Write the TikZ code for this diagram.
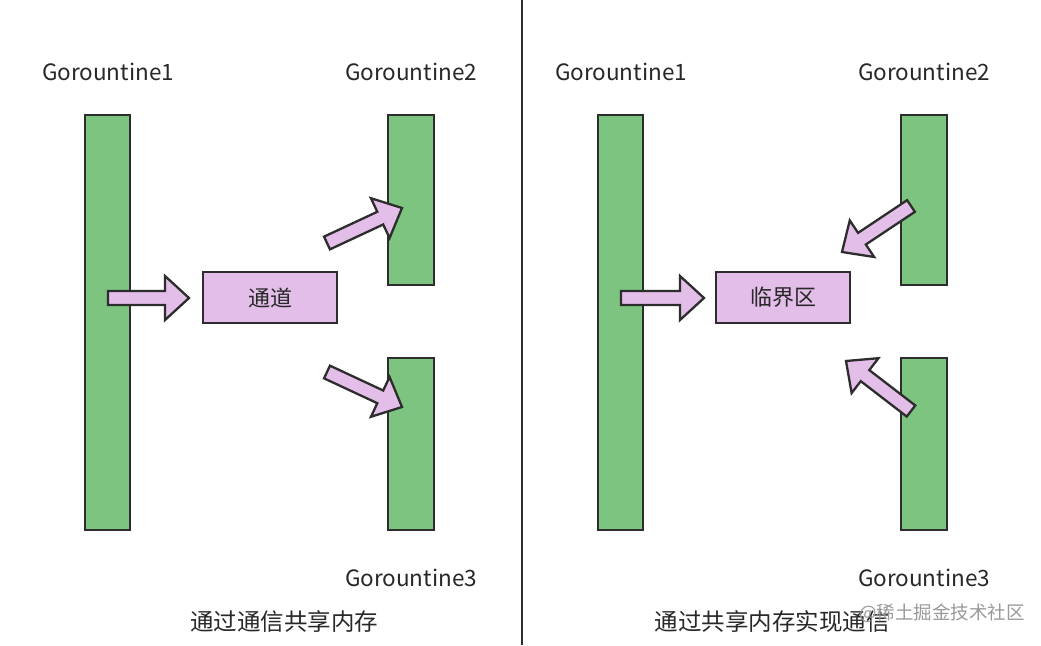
\documentclass[tikz,border=0pt]{standalone}
\usepackage{fontspec}
\setmainfont{Noto Sans CJK SC}
\usetikzlibrary{calc}
\definecolor{barg}{RGB}{125,196,128}
\definecolor{pinkf}{RGB}{226,190,232}
\definecolor{edge}{RGB}{45,45,45}
\definecolor{txt}{RGB}{40,40,40}
\tikzset{
  bar/.style={draw=edge,line width=2.2pt,fill=barg},
  box/.style={draw=edge,line width=1.4pt,fill=pinkf,text=txt,font=\fontsize{22}{26}\selectfont},
  lbl/.style={text=txt,font=\fontsize{22.5}{26}\selectfont},
  captext/.style={text=txt,font=\fontsize{23.5}{28}\selectfont},
  blk/.style={draw=edge,line width=2.3pt,fill=pinkf,line join=miter},
}
\newcommand\blkarrow[2]{%
  \coordinate (hb) at ($(#2)!24pt!(#1)$);
  \draw[blk] ($(#1)!7pt!90:(#2)$) -- ($(hb)!7pt!90:(#2)$) -- ($(hb)!22pt!90:(#2)$) -- (#2)
    -- ($(hb)!22pt!-90:(#2)$) -- ($(hb)!7pt!-90:(#2)$) -- ($(#1)!7pt!-90:(#2)$) -- cycle;}
\begin{document}
\begin{tikzpicture}[x=1pt,y=-1pt]
\useasboundingbox (0,0) rectangle (1041,645);
\fill[white] (0,0) rectangle (1041,645);
% divider
\coordinate (dtop) at (522,0);
\coordinate (dbot) at (522,645);
\draw[edge,line width=2.2pt] (dtop) -- (dbot);
% ---------- left panel ----------
\node[bar,minimum width=45pt,minimum height=415pt,inner sep=0pt] (lg1) at (107.5,322.5) {};
\node[bar,minimum width=46pt,minimum height=170pt,inner sep=0pt] (lg2) at (411,200) {};
\node[bar,minimum width=46pt,minimum height=172pt,inner sep=0pt] (lg3) at (411,444) {};
\node[lbl] (llg1) at (108,72) {Gorountine1};
\node[lbl] (llg2) at (411,72) {Gorountine2};
\node[lbl] (llg3) at (411,578) {Gorountine3};
\node[box,minimum width=134pt,minimum height=51pt,inner sep=0pt] (chan) at (270,297.5) {通道};
\coordinate (la1t) at (108,298); \coordinate (la1h) at (189,298);
\coordinate (la2t) at (327,243); \coordinate (la2h) at (402,208);
\coordinate (la3t) at (327,372); \coordinate (la3h) at (402,407);
\blkarrow{la1t}{la1h}
\blkarrow{la2t}{la2h}
\blkarrow{la3t}{la3h}
\node[captext] (lcap) at (284,622) {通过通信共享内存};
% ---------- right panel ----------
\node[bar,minimum width=45pt,minimum height=415pt,inner sep=0pt] (rg1) at (620.5,322.5) {};
\node[bar,minimum width=46pt,minimum height=170pt,inner sep=0pt] (rg2) at (924,200) {};
\node[bar,minimum width=46pt,minimum height=172pt,inner sep=0pt] (rg3) at (924,444) {};
\node[lbl] (lrg1) at (621,72) {Gorountine1};
\node[lbl] (lrg2) at (924,72) {Gorountine2};
\node[lbl] (lrg3) at (924,578) {Gorountine3};
\node[box,minimum width=134pt,minimum height=51pt,inner sep=0pt] (crit) at (783,297.5) {临界区};
\coordinate (ra1t) at (621,298); \coordinate (ra1h) at (704,298);
\coordinate (ra2t) at (911,206); \coordinate (ra2h) at (842,252);
\coordinate (ra3t) at (911,411); \coordinate (ra3h) at (846,361);
\blkarrow{ra1t}{ra1h}
\blkarrow{ra2t}{ra2h}
\blkarrow{ra3t}{ra3h}
\node[captext] (rcap) at (772,622) {通过共享内存实现通信};
\node[text=black!40,font=\fontsize{18.5}{22}\selectfont] (wm) at (942,613) {@稀土掘金技术社区};
\end{tikzpicture}
\end{document}
